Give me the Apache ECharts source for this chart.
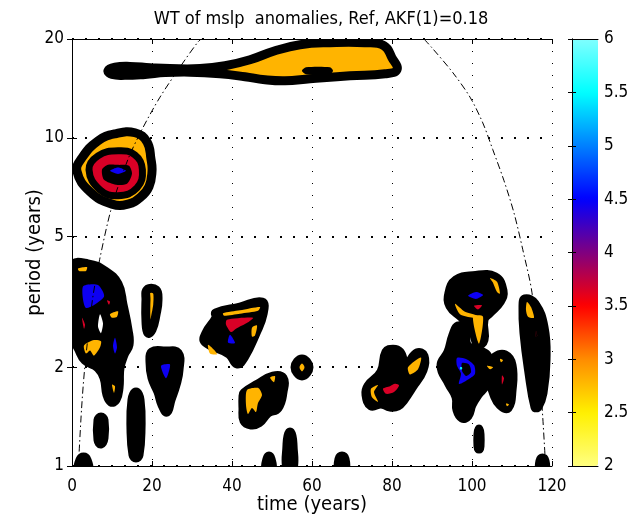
<!DOCTYPE html>
<html>
<head>
<meta charset="utf-8">
<script src="https://cdn.jsdelivr.net/npm/echarts@6/dist/echarts.min.js"></script>
<style>
  html, body { margin: 0; padding: 0; background: #fff; }
  #chart { width: 642px; height: 516px; }
</style>
</head>
<body>
<div id="chart"></div>
<script>
// Axis ticks
const TIME_TICKS = [0, 20, 40, 60, 80, 100, 120];
const PERIOD_TICKS = [1, 2, 5, 10, 20];
const POWER_TICKS = [2, 2.5, 3, 3.5, 4, 4.5, 5, 5.5, 6];
// Colormap stops for power 2 .. 6 (every 0.5)
const POWER_COLORS = ['#ffff80', '#fff000', '#ff8c00', '#ff0000', '#800080', '#0000ff', '#0080ff', '#00ffff', '#80ffff'];

// Cone of influence, [time, period]
const COI_LEFT = [[1.6, 1], [2.4, 1.5], [3.2, 2], [5.1, 3.2], [6.9, 4.25], [10, 6.2], [14, 8.6], [17.5, 10.6], [22, 13.3], [27.7, 16.9], [31.5, 19.6], [32.3, 20]];
const COI_RIGHT = [[88, 20], [90, 18.8], [95.2, 15.8], [99.5, 13.3], [102.7, 11.1], [105.2, 9.2], [108, 7.4], [110.5, 5.9], [112.7, 4.56], [115, 3.37], [116.8, 2.0], [117.7, 1.4], [118.4, 1.0]];

// Significant wavelet power regions: [power level, [[time, period], ...]]
// level 0 = merged contour lines (black), level < 2 = below the lowest contour
const blobA = {
  outlines: [[2.8, [[10.75, 10.28], [15.75, 10.36], [18.75, 9.72], [19.75, 8.6], [20, 7.9], [19.25, 7.1], [17.25, 6.61], [14, 6.28], [10, 6.28], [4.5, 6.85], [1.25, 7.9], [2.5, 8.69], [6.5, 9.79]]]],
  rings: [
    [3.65, [[11.5, 9.13], [15.75, 8.87], [17.6, 7.99], [16.25, 7.04], [11.5, 6.66], [7, 6.94], [4.25, 7.99], [6.5, 8.81]]]
  ],
  spots: [
    [0, [[11.5, 8.27], [14.25, 8.22], [15, 7.77], [13.75, 7.24], [11, 7.19], [8, 7.45], [7.5, 7.99], [9, 8.27]]],
    [4.45, [[9.5, 7.93], [11.5, 8.12], [13.5, 7.93], [11.5, 7.76]]]
  ]
};
const blobB = {
  outlines: [[2.8, [[9, 16.01], [10.75, 16.4], [14.5, 16.5], [19.5, 16.35], [24.5, 16.25], [32, 16.25], [38.25, 16.58], [44.5, 17.29], [50.75, 18.42], [57, 19.21], [64.5, 19.49], [73.25, 19.49], [78, 19.08], [80, 17.53], [81.25, 16.12], [78.25, 15.67], [69.5, 15.45], [59.5, 15.13], [53.25, 14.92], [48.25, 15.03], [43.25, 15.35], [37, 15.67], [29.5, 15.85], [23.25, 15.8], [18.25, 15.6], [13.25, 15.5], [10, 15.6]]]],
  spots: [[0, [[57.5, 16.01], [58.5, 16.4], [64.5, 16.4], [65.25, 16.01], [64.5, 15.62], [58.5, 15.62]]]]
};
const blobC = {
  outlines: [[0, [[0.25, 4.07], [4, 4.13], [8.25, 3.93], [11.5, 3.59], [12.75, 3.10], [14, 2.60], [14.25, 2.34], [13, 2.18], [12, 1.99], [11.75, 1.73], [11, 1.59], [9.75, 1.567], [8.75, 1.647], [8, 1.855], [6.5, 1.99], [3.25, 2.10], [1.75, 2.26], [0.25, 2.51]]]],
  spots: [
    [4.45, [[2.75, 3.52], [6.5, 3.56], [8, 3.28], [3.5, 3.03]]],
    [1, [[7, 2.9], [7.75, 2.72], [7.25, 2.54], [6.5, 2.66]]],
    [4.45, [[10.75, 2.46], [11.25, 2.3], [10.75, 2.2], [10.25, 2.32]]],
    [2.8, [[1.5, 4.0], [3.75, 4.04], [3.5, 3.93], [1.75, 3.93]]],
    [2.8, [[3, 2.33], [5.5, 2.42], [7.25, 2.4], [7, 2.3], [5.5, 2.17], [4.5, 2.25], [3.5, 2.2]]],
    [2.8, [[9.5, 2.9], [11.5, 2.96], [11.25, 2.85], [10, 2.83]]],
    [2.8, [[10, 1.77], [10.75, 1.75], [10.5, 1.67]]],
    [3.65, [[2.5, 2.83], [3.25, 2.7], [3, 2.62]]],
    [3.65, [[8.75, 3.2], [9.5, 3.17], [9.25, 3.1]]]
  ]
};
const blobD = { outlines: [[2.8, [[18.75, 3.44], [21, 3.44], [21.5, 3.21], [21, 2.89], [20, 2.6], [19, 2.54], [18.5, 2.75], [18.5, 3.21]]]] };
const blobE = {
  outlines: [[0, [[20, 2.226], [23.25, 2.24], [26.5, 2.21], [26.75, 1.96], [26, 1.766], [24.75, 1.59], [23.75, 1.46], [22.5, 1.535], [21.5, 1.68], [20, 1.855], [19.5, 2.075]]]],
  spots: [[4.45, [[22.25, 2.02], [24.5, 2.04], [23.5, 1.85]]]]
};
const blobF = { outlines: [[0, [[16, 1.68], [17, 1.59], [17.25, 1.29], [16.75, 1.08], [16, 1.058], [15.25, 1.08], [14.75, 1.29], [15, 1.59]]]] };
const blobG = { outlines: [[0, [[7.25, 1.41], [8, 1.38], [8, 1.217], [7.25, 1.167], [6.5, 1.2], [6.5, 1.38]]]] };
const blobH = { outlines: [[0, [[1.75, 0.98], [2, 1.043], [2.9, 1.065], [3.75, 1.043], [4, 0.98]]]] };
const blobI = {
  outlines: [[0, [[36, 2.93], [42, 3.05], [47.5, 3.16], [47.75, 2.9], [46, 2.54], [43, 2.135], [41.25, 2.046], [39.25, 2.195], [33.25, 2.39], [33.5, 2.54], [36, 2.83]]]],
  spots: [
    [2.8, [[37.75, 2.92], [42, 2.98], [47, 3.05], [46.5, 2.97], [42, 2.91], [38, 2.87]]],
    [3.65, [[38.75, 2.79], [45.25, 2.83], [44, 2.74], [41, 2.62], [39.75, 2.56], [38.5, 2.7]]],
    [4.45, [[39.5, 2.51], [40.75, 2.37], [39, 2.38]]],
    [2.8, [[34, 2.34], [35.5, 2.26], [36.25, 2.19], [34.5, 2.2]]],
    [2.8, [[45, 2.64], [46.25, 2.68], [45.75, 2.5], [45, 2.48]]]
  ]
};
const blobJ = { outlines: [[2.8, [[57.5, 2.12], [59.25, 2.0], [57.5, 1.88], [55.75, 2.0]]]] };
const blobK = {
  outlines: [[0, [[43, 1.67], [46.5, 1.778], [50.25, 1.88], [52.75, 1.855], [52.75, 1.68], [51.5, 1.502], [49, 1.45], [46.75, 1.353], [44.75, 1.334], [43, 1.372], [42.75, 1.502], [42.75, 1.624]]]],
  spots: [
    [2.8, [[43.75, 1.705], [46.5, 1.73], [47.5, 1.647], [46.5, 1.556], [46, 1.46], [45, 1.502], [44, 1.44], [43.5, 1.535]]],
    [2.8, [[49.5, 1.86], [50.75, 1.88], [50.5, 1.8]]]
  ]
};
const blobL1 = { outlines: [[0, [[48.5, 0.98], [48.75, 1.05], [49.25, 1.073], [49.75, 1.05], [50, 0.98]]]] };
const blobL2 = { outlines: [[0, [[53.75, 0.98], [53.75, 1.159], [54, 1.235], [54.5, 1.27], [55, 1.235], [55.25, 1.159], [55.25, 0.98]]]] };
const blobL3 = { outlines: [[0, [[66.75, 0.98], [66.75, 1.05], [67.5, 1.073], [68.25, 1.05], [68.25, 0.98]]]] };
const blobM = {
  outlines: [[0, [[80.25, 2.27], [82, 2.227], [83.5, 2.046], [86.25, 2.21], [88, 2.165], [87.75, 1.96], [85, 1.73], [83, 1.59], [81.5, 1.524], [79.5, 1.513], [77.25, 1.546], [74.75, 1.524], [73.5, 1.647], [74, 1.753], [77.25, 1.935], [78.5, 2.227]]]],
  spots: [
    [2.8, [[84, 2.0], [87.25, 2.14], [86.5, 1.97], [84.5, 1.9]]],
    [3.65, [[77.75, 1.72], [79.5, 1.75], [80.75, 1.78], [81.75, 1.76], [80.5, 1.68], [78.5, 1.66]]],
    [2.8, [[74.75, 1.72], [76.5, 1.766], [75.5, 1.68], [76.5, 1.57], [75, 1.62]]]
  ]
};
const blobN = {
  outlines: [
    [0, [[94.25, 3.37], [96, 3.69], [100.25, 3.80], [105.75, 3.77], [107.75, 3.42], [107, 3.16], [104.5, 2.93], [103, 2.79], [103, 2.42], [101.5, 2.34], [100, 2.60], [97.5, 2.83], [94.5, 3.07]]],
    [0, [[92.25, 2.02], [94, 2.226], [95.25, 2.51], [96.5, 2.67], [98.25, 2.60], [98.75, 2.34], [101, 2.26], [103.75, 2.18], [104.5, 1.99], [103.5, 1.766], [101.5, 1.647], [100, 1.535], [99, 1.42], [97.5, 1.40], [96.25, 1.48], [96, 1.624], [94.25, 1.778]]],
    [0, [[105.75, 2.15], [108.25, 2.18], [110, 2.03], [110, 1.70], [109, 1.502], [107, 1.535], [105.5, 1.647], [104.5, 1.83], [104.5, 2.03]]]
  ],
  spots: [
    [4.45, [[99, 3.30], [101, 3.39], [102.75, 3.32], [101, 3.23]]],
    [3.65, [[100.5, 3.08], [102.5, 3.09], [101.5, 3.0]]],
    [2.8, [[100.25, 2.85], [102.75, 2.85], [101.75, 2.36]]],
    [2.8, [[95.75, 3.12], [98.25, 2.95], [101.25, 2.87], [100.25, 2.83], [97, 2.90]]],
    [2.8, [[104.5, 3.74], [106.25, 3.64], [107, 3.35], [106.25, 3.39], [105.25, 3.62]]],
    [4.45, [[96.25, 2.135], [98.5, 2.12], [100.5, 2.03], [100.75, 1.91], [99.25, 1.84], [96.75, 1.778], [97.25, 1.91], [96.25, 2.02]]],
    [0, [[97.5, 2.06], [99.25, 2.04], [99.75, 1.93], [98.5, 1.88], [97.5, 1.95]]],
    [5.4, [[97, 2.0], [97.5, 2.0], [97.5, 1.97], [97, 1.97]]],
    [2.8, [[103.75, 2.02], [105.25, 2.0], [104.5, 1.97]]],
    [2.8, [[107, 2.12], [107.75, 2.1], [107.25, 2.07]]],
    [3.65, [[107.5, 1.89], [108, 1.85], [107.5, 1.77]]],
    [2.8, [[108.5, 1.55], [109.25, 1.54], [108.75, 1.52]]]
  ]
};
const blobO = {
  outlines: [[0, [[113.25, 3.23], [115.75, 3.12], [118, 2.65], [118.5, 2.10], [117.75, 1.67], [116.5, 1.513], [115.75, 1.513], [114.25, 1.92], [113, 2.54], [112.75, 3.05]]]],
  spots: [
    [2.8, [[113.75, 3.16], [114.75, 3.05], [115.5, 2.83], [114, 2.85], [113.5, 2.99]]],
    [3.65, [[116, 2.58], [116.3, 2.5], [116, 2.47]]]
  ]
};
const blobP = { outlines: [[0, [[101.75, 1.297], [102, 1.25], [102, 1.15], [101.75, 1.127], [101.5, 1.15], [101.5, 1.25]]]] };
const blobQ = { outlines: [[0, [[117, 0.98], [117, 1.036], [117.6, 1.058], [118.25, 1.036], [118.25, 0.98]]]] };

const BLOBS = [blobA, blobB, blobC, blobD, blobE, blobF, blobG, blobH, blobI, blobJ, blobK, blobL1, blobL2, blobL3, blobM, blobN, blobO, blobP, blobQ];

// ---- colour lookup along the colormap ----
function hexToRgb(h) { return [1, 3, 5].map(i => parseInt(h.substr(i, 2), 16)); }
function powerColor(v) {
  if (v === 0) return '#000000';
  if (v < 2) return '#ffffff';
  const f = Math.min((v - 2) / 0.5, POWER_COLORS.length - 1);
  const i = Math.min(Math.floor(f), POWER_COLORS.length - 2);
  const t = f - i;
  const a = hexToRgb(POWER_COLORS[i]), b = hexToRgb(POWER_COLORS[i + 1]);
  const c = a.map((x, k) => Math.round(x + (b[k] - x) * t));
  return 'rgb(' + c.join(',') + ')';
}

// Flatten the regions into drawable shapes (drawing order = list order)
const SHAPES = [];
BLOBS.forEach(b => {
  (b.outlines || []).forEach(([lv, pts]) => SHAPES.push({ role: 'outline', lv, pts }));
  (b.rings || []).forEach(([lv, pts]) => SHAPES.push({ role: 'ring', lv, pts }));
  (b.spots || []).forEach(([lv, pts]) => SHAPES.push({ role: 'spot', lv, pts }));
});

function renderShape(params, api) {
  const s = SHAPES[params.dataIndex];
  const points = s.pts.map(p => api.coord(p));
  const isSpot = s.role === 'spot';
  return {
    type: 'polygon',
    shape: { points, smooth: isSpot ? 0.25 : 0.45 },
    style: {
      fill: powerColor(s.lv),
      stroke: isSpot ? null : '#000',
      lineWidth: s.role === 'outline' ? 9 : (s.role === 'ring' ? 7 : 0),
      lineJoin: 'round'
    }
  };
}

const FONT = "'DejaVu Sans Condensed', 'DejaVu Sans', sans-serif";
const tickText = { color: '#000', fontFamily: FONT, fontSize: 17 };
const nameText = { color: '#000', fontFamily: FONT, fontSize: 20 };

const chart = echarts.init(document.getElementById('chart'), null, { renderer: 'canvas' });
chart.setOption({
  animation: false,
  backgroundColor: '#fff',
  title: {
    text: 'WT of mslp  anomalies, Ref, AKF(1)=0.18',
    left: 'center', top: 5,
    textStyle: { color: '#000', fontFamily: FONT, fontSize: 18, fontWeight: 'normal' }
  },
  grid: [
    { left: 72, top: 39, width: 480, height: 427, outerBoundsMode: 'none', containLabel: false },
    { left: 572, top: 39, width: 26, height: 427, outerBoundsMode: 'none', containLabel: false }
  ],
  visualMap: {
    type: 'continuous', min: 2, max: 6, orient: 'vertical',
    left: 572, top: 39, itemWidth: 26, itemHeight: 427, padding: 0,
    calculable: false, hoverLink: false, seriesIndex: [],
    inRange: { color: POWER_COLORS }
  },
  xAxis: [
    {
      type: 'value', gridIndex: 0, position: 'bottom', min: 0, max: 120, interval: 20,
      name: 'time (years)', nameLocation: 'middle', nameGap: 29, nameMoveOverlap: false,
      nameTextStyle: nameText,
      axisLine: { show: true, lineStyle: { color: '#000', width: 1 } },
      axisTick: { show: true, inside: true, length: 5, lineStyle: { color: '#000' } },
      axisLabel: Object.assign({ margin: 12, customValues: TIME_TICKS }, tickText),
      splitLine: { show: true, lineStyle: { color: '#000', width: 1, type: [1, 11] } }
    },
    {
      type: 'value', gridIndex: 0, position: 'top', min: 0, max: 120, interval: 20,
      axisLine: { show: true, lineStyle: { color: '#000', width: 1 } },
      axisTick: { show: true, inside: true, length: 5, lineStyle: { color: '#000' } },
      axisLabel: { show: false }, splitLine: { show: false }
    },
    {
      type: 'value', gridIndex: 1, position: 'bottom', min: 0, max: 1, z: 10,
      axisLine: { show: true, lineStyle: { color: '#000', width: 1 } },
      axisTick: { show: false }, axisLabel: { show: false }, splitLine: { show: false }
    },
    {
      type: 'value', gridIndex: 1, position: 'top', min: 0, max: 1, z: 10,
      axisLine: { show: true, lineStyle: { color: '#000', width: 1 } },
      axisTick: { show: false }, axisLabel: { show: false }, splitLine: { show: false }
    }
  ],
  yAxis: [
    {
      type: 'log', logBase: 10, gridIndex: 0, position: 'left', min: 1, max: 20,
      name: 'period (years)', nameLocation: 'middle', nameGap: 27, nameRotate: 90, nameMoveOverlap: false,
      nameTextStyle: nameText,
      axisLine: { show: true, lineStyle: { color: '#000', width: 1 } },
      axisTick: { show: true, inside: true, length: 5, customValues: PERIOD_TICKS, lineStyle: { color: '#000' } },
      axisLabel: Object.assign({ margin: 8, customValues: PERIOD_TICKS }, tickText),
      splitLine: { show: true, lineStyle: { color: '#000', width: 2, type: [2, 11] } }
    },
    {
      type: 'log', logBase: 10, gridIndex: 0, position: 'right', min: 1, max: 20,
      axisLine: { show: true, lineStyle: { color: '#000', width: 1 } },
      axisTick: { show: true, inside: true, length: 5, customValues: PERIOD_TICKS, lineStyle: { color: '#000' } },
      axisLabel: { show: false }, splitLine: { show: false }
    },
    {
      type: 'value', gridIndex: 1, position: 'right', min: 2, max: 6, interval: 0.5, z: 10,
      axisLine: { show: true, lineStyle: { color: '#000', width: 1 } },
      axisTick: { show: true, inside: true, length: 4, lineStyle: { color: '#000' } },
      axisLabel: Object.assign({ margin: 6, customValues: POWER_TICKS }, tickText),
      splitLine: { show: false }
    },
    {
      type: 'value', gridIndex: 1, position: 'left', min: 2, max: 6, interval: 0.5, z: 10,
      axisLine: { show: true, lineStyle: { color: '#000', width: 1 } },
      axisTick: { show: true, inside: true, length: 4, lineStyle: { color: '#000' } },
      axisLabel: { show: false }, splitLine: { show: false }
    }
  ],
  series: [
    {
      type: 'line', xAxisIndex: 0, yAxisIndex: 0, data: COI_LEFT, smooth: 0.3,
      symbol: 'none', silent: true, clip: true,
      lineStyle: { color: '#000', width: 1, type: [7, 3, 1.5, 3] }
    },
    {
      type: 'line', xAxisIndex: 0, yAxisIndex: 0, data: COI_RIGHT, smooth: 0.3,
      symbol: 'none', silent: true, clip: true,
      lineStyle: { color: '#000', width: 1, type: [7, 3, 1.5, 3] }
    },
    {
      type: 'custom', xAxisIndex: 0, yAxisIndex: 0, clip: true, silent: true,
      renderItem: renderShape,
      data: SHAPES.map(s => s.pts[0])
    }
  ]
});
</script>
</body>
</html>
